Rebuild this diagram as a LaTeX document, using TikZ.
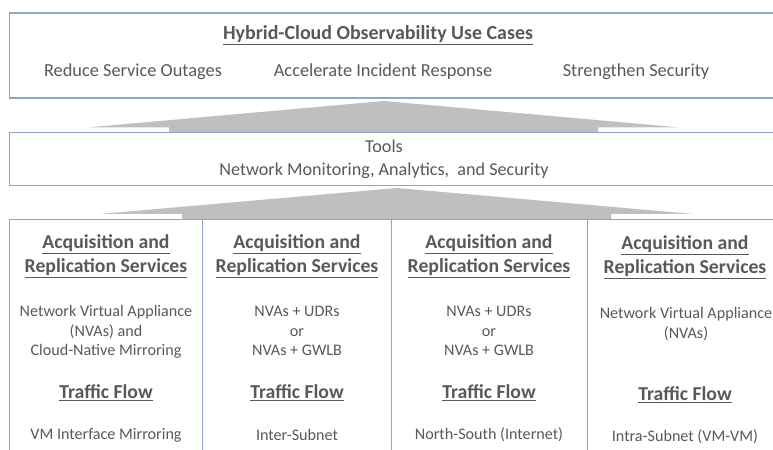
\documentclass[tikz,border=0pt]{standalone}
\usepackage{fontspec}
\setmainfont{Carlito}
\definecolor{bordercol}{RGB}{143,165,203}
\definecolor{txt}{RGB}{89,89,89}
\definecolor{arrowgray}{RGB}{191,191,191}
\newcommand{\ul}[1]{\underline{#1}}
\begin{document}
\begin{tikzpicture}[x=1bp,y=-1bp,
  box/.style={draw=bordercol,line width=1.3pt,fill=white,inner sep=0pt,anchor=north west},
  lbl/.style={text=txt,inner sep=0pt,align=center,anchor=center},
  titlefont/.style={font=\fontsize{20}{24}\selectfont\bfseries},
  usefont/.style={font=\fontsize{18.4}{22}\selectfont},
  toolfont/.style={font=\fontsize{18.2}{23}\selectfont},
  headfont/.style={font=\fontsize{19.8}{24}\selectfont\bfseries},
  bodyfont/.style={font=\fontsize{16.2}{19.5}\selectfont},
  bigarrow/.style={fill=arrowgray,draw=none}]
\clip (0,0) rectangle (773,450);
\fill[white] (0,0) rectangle (773,450);
% arrows
\fill[bigarrow] (87,127.5) -- (384,101) -- (680,127.5) -- (598,127.5) -- (598,133) -- (169,133) -- (169,127.5) -- cycle;
\fill[bigarrow] (100,214) -- (397,188) -- (693,214) -- (611,214) -- (611,220) -- (182,220) -- (182,214) -- cycle;
% boxes
\node[box,minimum width=790bp,minimum height=85bp] (usecases) at (9,12.5) {};
\node[box,minimum width=790bp,minimum height=53bp] (tools) at (9,132) {};
\node[box,minimum width=193bp,minimum height=260bp] (c1) at (9,219) {};
\node[box,minimum width=189bp,minimum height=260bp] (c2) at (202,219) {};
\node[box,minimum width=196bp,minimum height=260bp] (c3) at (391,219) {};
\node[box,minimum width=220bp,minimum height=260bp] (c4) at (587,219) {};
% top texts
\node[lbl,titlefont] (title) at (378,35) {\ul{Hybrid-Cloud Observability Use Cases}};
\node[lbl,usefont] (uc1) at (133,72) {Reduce Service Outages};
\node[lbl,usefont] (uc2) at (383,72) {Accelerate Incident Response};
\node[lbl,usefont] (uc3) at (636,72) {Strengthen Security};
% tools
\node[lbl,toolfont] (toolstxt) at (384,159) {Tools\\Network Monitoring, Analytics,\ \ and Security};
% columns
\node[lbl,headfont] (h1) at (106,256) {\ul{Acquisition and}\\\ul{Replication Services}};
\node[lbl,headfont] (h2) at (297,256) {\ul{Acquisition and}\\\ul{Replication Services}};
\node[lbl,headfont] (h3) at (489,256) {\ul{Acquisition and}\\\ul{Replication Services}};
\node[lbl,headfont] (h4) at (685,257) {\ul{Acquisition and}\\\ul{Replication Services}};
\node[lbl,bodyfont] (b1) at (106,332) {Network Virtual Appliance\\(NVAs) and\\Cloud-Native Mirroring};
\node[lbl,bodyfont] (b2) at (297,331) {NVAs + UDRs\\or\\NVAs + GWLB};
\node[lbl,bodyfont] (b3) at (489,331) {NVAs + UDRs\\or\\NVAs + GWLB};
\node[lbl,bodyfont] (b4) at (686,324) {Network Virtual Appliance\\(NVAs)};
\node[lbl,headfont] (t1) at (106,393) {\ul{Traffic Flow}};
\node[lbl,headfont] (t2) at (297,393) {\ul{Traffic Flow}};
\node[lbl,headfont] (t3) at (489,393) {\ul{Traffic Flow}};
\node[lbl,headfont] (t4) at (685,395) {\ul{Traffic Flow}};
\node[lbl,bodyfont] (f1) at (106,435) {VM Interface Mirroring};
\node[lbl,bodyfont] (f2) at (297,435) {Inter-Subnet};
\node[lbl,bodyfont] (f3) at (489,435) {North-South (Internet)};
\node[lbl,bodyfont] (f4) at (685,437) {Intra-Subnet (VM-VM)};
\end{tikzpicture}
\end{document}
